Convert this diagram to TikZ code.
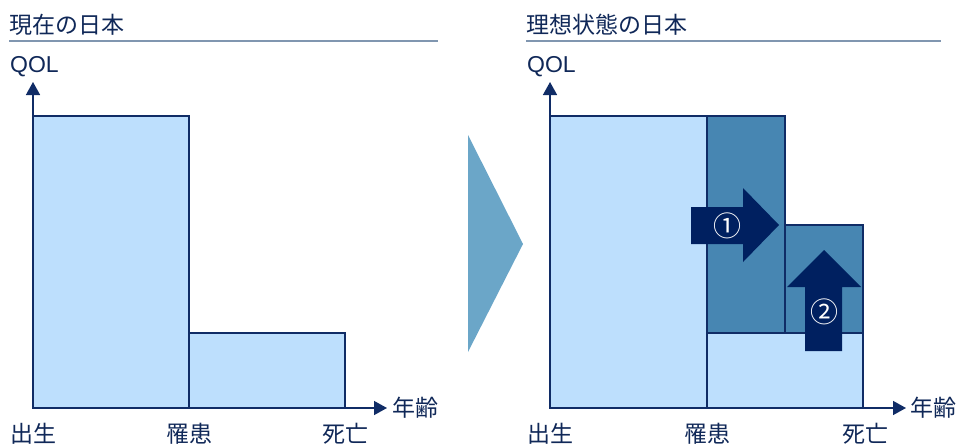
\documentclass[tikz,border=0pt]{standalone}
\usepackage{fontspec}
\setmainfont{Noto Sans CJK JP}
\newfontfamily\latinsans{Liberation Sans}
\usetikzlibrary{arrows.meta}
\definecolor{lightb}{RGB}{189,223,253}
\definecolor{darkb}{RGB}{71,134,178}
\definecolor{navyc}{RGB}{0,32,96}
\definecolor{edgec}{RGB}{16,44,102}
\definecolor{tric}{RGB}{107,166,200}
\definecolor{ulinec}{RGB}{128,150,176}
\definecolor{textc}{RGB}{16,40,88}
\begin{document}
\begin{tikzpicture}[x=1pt,y=-1pt,
  lightbar/.style={draw=edgec,line width=1.5pt,fill=lightb},
  darkbar/.style={draw=edgec,line width=1.5pt,fill=darkb},
  axisline/.style={draw=edgec,line width=1.5pt,-{Triangle[length=13pt,width=14pt]}},
  uline/.style={draw=ulinec,line width=1.8pt},
  lbl/.style={text=textc,inner sep=0pt,font=\fontsize{23}{23}\selectfont},
  qol/.style={text=textc,inner sep=0pt,font=\latinsans\fontsize{23}{23}\selectfont},
  bigarrow/.style={fill=navyc},
  num/.style={text=white,inner sep=0pt,font=\fontsize{28}{28}\selectfont}]
\useasboundingbox (0,0) rectangle (958,445);

% titles
\node[lbl,anchor=west] (t1) at (9,25) {現在の日本};
\node[lbl,anchor=west] (t2) at (526,25) {理想状態の日本};
\coordinate (u1a) at (9,41); \coordinate (u1b) at (438,41);
\coordinate (u2a) at (526,41); \coordinate (u2b) at (941,41);
\draw[uline] (u1a) -- (u1b);
\draw[uline] (u2a) -- (u2b);

% QOL labels
\node[qol,anchor=west] (q1) at (10,67) {QOL};
\node[qol,anchor=west] (q2) at (527,67) {QOL};

% axes
\coordinate (o1) at (33,408); \coordinate (y1) at (33,82); \coordinate (x1) at (387,408);
\coordinate (o2) at (550,408); \coordinate (y2) at (550,82); \coordinate (x2) at (906,408);
\draw[axisline] (o1) -- (y1);
\draw[axisline] (o1) -- (x1);
\draw[axisline] (o2) -- (y2);
\draw[axisline] (o2) -- (x2);

% left bars
\draw[lightbar] (33,116) rectangle (189,408);
\draw[lightbar] (189,333) rectangle (345,408);

% transition triangle
\fill[tric] (468,135) -- (523,244) -- (468,352) -- cycle;

% right bars
\draw[lightbar] (550,116) rectangle (707,408);
\draw[lightbar] (707,333) rectangle (863,408);
\draw[darkbar] (707,116) rectangle (785,333);
\draw[darkbar] (785,225) rectangle (863,333);

% big arrows
\fill[bigarrow] (691,207) -- (743,207) -- (743,188) -- (779,225) -- (743,262) -- (743,244) -- (691,244) -- cycle;
\fill[bigarrow] (805,351) -- (805,287) -- (787,287) -- (824,250) -- (861,287) -- (842,287) -- (842,351) -- cycle;
\node[num] (n1) at (727,226) {①};
\node[num] (n2) at (824,312) {②};

% axis labels
\node[lbl,anchor=west] (a1) at (392,408) {年齢};
\node[lbl,anchor=west] (a2) at (910,408) {年齢};
\node[lbl] (b1) at (33,434) {出生};
\node[lbl] (c1) at (189,434) {罹患};
\node[lbl] (d1) at (345,434) {死亡};
\node[lbl] (b2) at (550,434) {出生};
\node[lbl] (c2) at (707,434) {罹患};
\node[lbl] (d2) at (865,434) {死亡};
\end{tikzpicture}
\end{document}
